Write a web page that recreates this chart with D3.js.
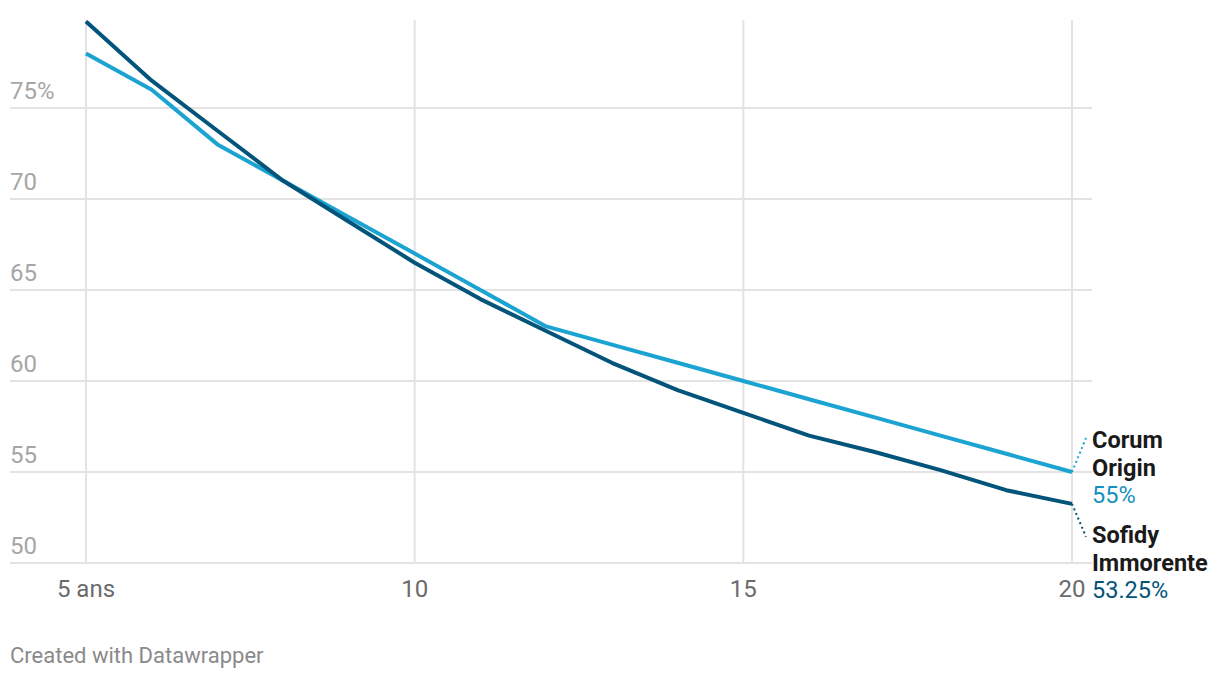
<!DOCTYPE html>
<html><head><meta charset="utf-8">
<script src="https://cdn.jsdelivr.net/npm/d3@7"></script>
<style>
html,body{margin:0;padding:0;background:#fff;}
svg{display:block;font-family:Roboto, sans-serif;}
</style></head>
<body>
<svg id="chart" width="1220" height="680"></svg>
<script>
const years = [5,6,7,8,9,10,11,12,13,14,15,16,17,18,19,20];
const corumOrigin = [78,76,73,71,69,67,65,63,62,61,60,59,58,57,56,55];
const sofidyImmorente = [79.75,76.5,73.75,71,68.75,66.5,64.5,62.75,61,59.5,58.25,57,56.1,55.1,54,53.25];
const yTicks = [50,55,60,65,70,75];
const xTicks = [5,10,15,20];
const seriesNames = ["Corum Origin","Sofidy Immorente"];
const seriesColors = ["#1ba3d1","#03547a"];
const valueColors = ["#1590bf","#03547a"];
const valueLabels = ["55%","53.25%"];

const svg = d3.select("#chart");
const x = d3.scaleLinear().domain([5,20]).range([86,1072]);
const y = d3.scaleLinear().domain([50,80]).range([563,17]);

// horizontal grid
const gH = svg.append("g");
gH.selectAll("line").data(yTicks).join("line")
  .attr("x1",10).attr("x2",1092)
  .attr("y1",d=>y(d)).attr("y2",d=>y(d))
  .attr("stroke","#e3e3e3").attr("stroke-width",2);
gH.selectAll("text").data(yTicks).join("text")
  .attr("x",10).attr("y",d=>y(d)-9)
  .attr("fill","#a6a6a6").attr("font-size",24)
  .text(d=> d===75 ? d+"%" : d);

// vertical grid
const gV = svg.append("g");
gV.selectAll("line").data(xTicks).join("line")
  .attr("x1",d=>x(d)).attr("x2",d=>x(d))
  .attr("y1",20).attr("y2",563)
  .attr("stroke","#e3e3e3").attr("stroke-width",2);
gV.selectAll("text").data(xTicks).join("text")
  .attr("x",d=>x(d)).attr("y",597)
  .attr("text-anchor","middle")
  .attr("fill","#6b6b6b").attr("font-size",24)
  .text(d=> d===5 ? "5 ans" : d);

const line = d3.line().x((d,i)=>x(years[i])).y(d=>y(d));
[corumOrigin, sofidyImmorente].forEach((s,k)=>{
  svg.append("path").datum(s)
    .attr("d",line).attr("fill","none")
    .attr("stroke",seriesColors[k]).attr("stroke-width",4)
    .attr("stroke-linejoin","round");
});

// connectors
const last = years.length-1;
svg.append("line").attr("x1",x(20)).attr("y1",y(corumOrigin[last]))
  .attr("x2",x(20)+14).attr("y2",y(corumOrigin[last])-34)
  .attr("stroke",seriesColors[0]).attr("stroke-width",2).attr("stroke-dasharray","2,3");
svg.append("line").attr("x1",x(20)).attr("y1",y(sofidyImmorente[last]))
  .attr("x2",x(20)+14).attr("y2",y(sofidyImmorente[last])+33)
  .attr("stroke",seriesColors[1]).attr("stroke-width",2).attr("stroke-dasharray","2,3");

// end labels
const labelData = [
  {lines:["Corum","Origin"], val:valueLabels[0], top:448, c:valueColors[0]},
  {lines:["Sofidy","Immorente"], val:valueLabels[1], top:543, c:valueColors[1]}
];
labelData.forEach(l=>{
  const t = svg.append("text").attr("x",1092).attr("font-size",23.5);
  l.lines.forEach((s,i)=>{
    t.append("tspan").attr("x",1092).attr("y",l.top+i*27.5)
      .attr("font-weight","bold").attr("fill","#1a1a1a").text(s);
  });
  t.append("tspan").attr("x",1092).attr("y",l.top+2*27.5)
    .attr("fill",l.c).text(l.val);
});

svg.append("text").attr("x",10).attr("y",663)
  .attr("fill","#8a8a8a").attr("font-size",22)
  .text("Created with Datawrapper");
</script>
</body></html>
